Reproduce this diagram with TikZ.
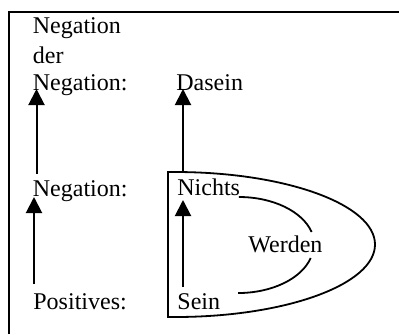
\documentclass[tikz,border=0pt]{standalone}
\usepackage{fontspec}
\setmainfont{Liberation Serif}
\usetikzlibrary{arrows.meta}
\begin{document}
\begin{tikzpicture}[x=0.5pt,y=0.5pt,
  lbl/.style={anchor=base west, inner sep=0pt, font=\fontsize{12}{14}\selectfont},
  arr/.style={line width=1pt, -{Triangle[length=8pt,width=8pt]}},
  ln/.style={line width=0.9pt}]
\useasboundingbox (0,0) rectangle (399,334);
% frame
\draw[line width=1pt] (8.5,0) -- (8.5,322.5) -- (399,322.5);
% labels
\node[lbl] (nnA) at (32.5,301) {Negation};
\node[lbl] (nnB) at (32.5,271) {der};
\node[lbl] (nnC) at (32.5,244) {Negation:};
\node[lbl] (neg) at (32.5,138) {Negation:};
\node[lbl] (pos) at (33,25) {Positives:};
\node[lbl] (das) at (176,244) {Dasein};
\node[lbl] (nic) at (177,139) {Nichts};
\node[lbl] (sein) at (177,25) {Sein};
\node[lbl] (wer) at (248,82) {Werden};
% arrows
\draw[arr] ([shift={(4,22)}]neg.base west) -- ([shift={(4,1)}]nnC.base west);
\draw[arr] ([shift={(1,25)}]pos.base west) -- ([shift={(1.5,-1)}]neg.base west);
\draw[arr] ([shift={(6,23)}]nic.base west) -- ([shift={(7,1)}]das.base west);
\draw[arr] ([shift={(6,22)}]sein.base west) -- ([shift={(6,-5)}]nic.base west);
% outer loop
\draw[ln, line join=miter] (168,17) -- (168,162) -- (175,162)
  arc[start angle=90, end angle=-90, x radius=100pt, y radius=36.25pt] -- cycle;
% inner arcs
\draw[ln] ([shift={(-1.5,-2)}]nic.base east)
  arc[start angle=90, end angle=15.7, x radius=37.75pt, y radius=24pt];
\draw[ln] ([shift={(62.7,-6)}]wer.base west)
  arc[start angle=-15.7, end angle=-90, x radius=37.75pt, y radius=24pt];
\end{tikzpicture}
\end{document}
